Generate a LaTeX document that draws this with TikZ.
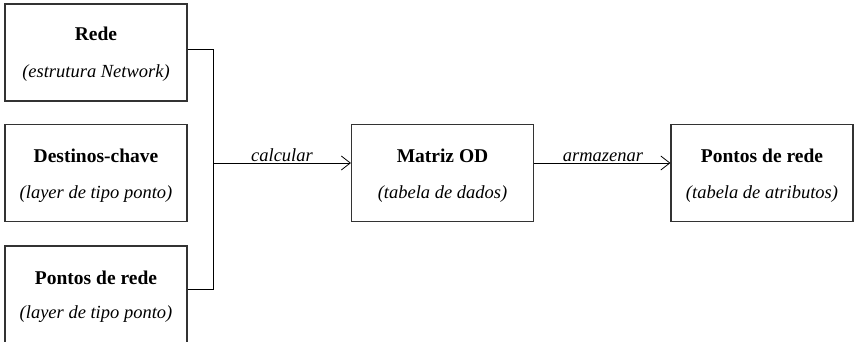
\documentclass[tikz,border=0pt]{standalone}
\usepackage{fontspec}
\setmainfont{Liberation Serif}
\usetikzlibrary{arrows.meta}
\tikzset{
  box/.style={draw=black!80, line width=1.1pt, minimum width=182pt, minimum height=97pt, inner sep=0pt},
  ttl/.style={font=\fontsize{19.5}{22}\selectfont\bfseries, inner sep=0pt, anchor=base},
  sub/.style={font=\fontsize{18.5}{22}\selectfont\itshape, inner sep=0pt, anchor=base},
  lbl/.style={font=\fontsize{18.5}{22}\selectfont\itshape, inner sep=0pt, anchor=base},
  link/.style={draw=black, line width=0.8pt},
  flow/.style={link, -{Straight Barb[length=9pt,width=14pt,line width=0.8pt]}},
}
\begin{document}
\begin{tikzpicture}[x=1pt, y=-1pt]
\useasboundingbox (0,0) rectangle (855,342);

% input boxes
\node[box] (rede) at (96,52.5) {};
\node[ttl] (redeT) at (96,41) {Rede};
\node[sub] (redeS) at (96,78) {(estrutura Network)};

\node[box] (dest) at (96,173) {};
\node[ttl] (destT) at (96,163) {Destinos-chave};
\node[sub] (destS) at (96,199) {(layer de tipo ponto)};

\node[box] (pont) at (96,294.5) {};
\node[ttl] (pontT) at (96,284) {Pontos de rede};
\node[sub] (pontS) at (96,318) {(layer de tipo ponto)};

% derived boxes
\node[box] (matriz) at (442.5,173) {};
\node[ttl] (matrizT) at (442.5,163) {Matriz OD};
\node[sub] (matrizS) at (442.5,199) {(tabela de dados)};

\node[box] (saida) at (762,173) {};
\node[ttl] (saidaT) at (762,163) {Pontos de rede};
\node[sub] (saidaS) at (762,199) {(tabela de atributos)};

% bracket joining the network and the network points
\coordinate (jtop) at (213,49);
\coordinate (jbot) at (213,289);
\coordinate (jmid) at (213,163);
\draw[link] (rede.east |- jtop) -- (jtop) -- (jbot) -- (pont.east |- jbot);

% flows
\draw[flow] (jmid) -- (matriz.west |- jmid);
\node[lbl] (calc) at (282,162) {calcular};
\draw[flow] (matriz.east |- jmid) -- (saida.west |- jmid);
\node[lbl] (arm) at (603,162) {armazenar};
\end{tikzpicture}
\end{document}
